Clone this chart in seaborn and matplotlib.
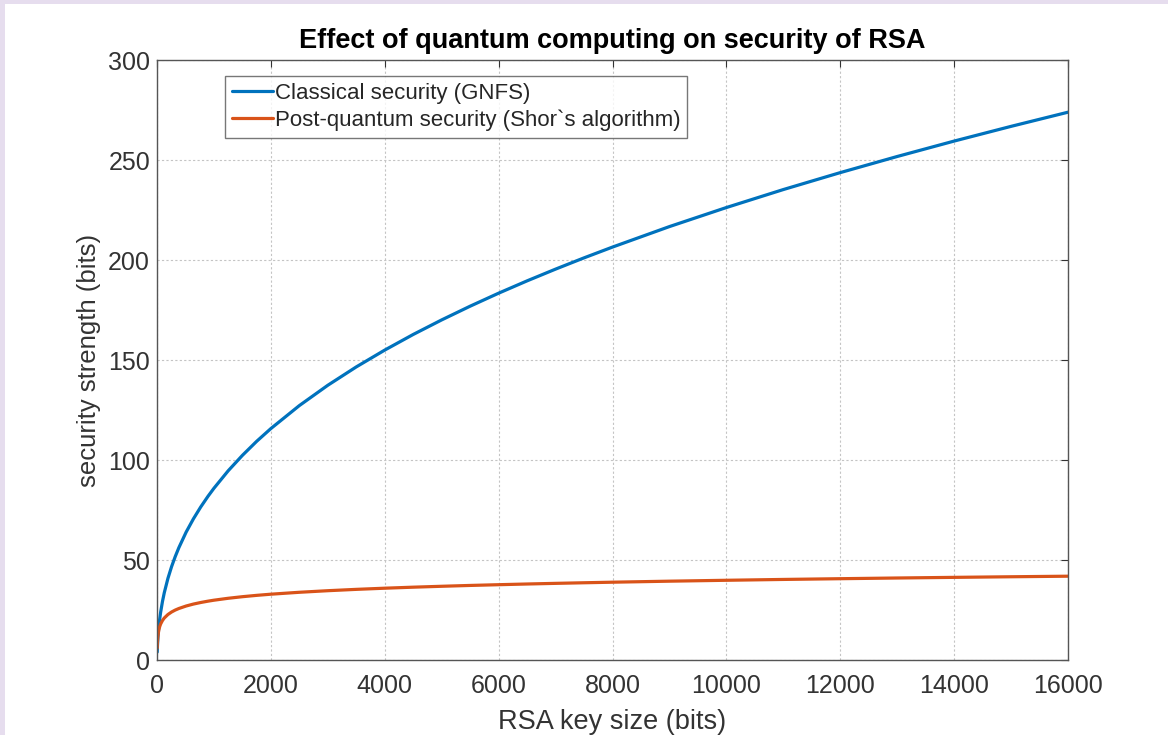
import matplotlib
matplotlib.use("Agg")
import matplotlib.pyplot as plt
import seaborn as sns
import pandas as pd
from matplotlib.patches import Rectangle

# RSA key size (bits)
key_bits = [4, 8, 16, 32, 48, 64, 96, 128, 192, 256,
            320, 384, 512, 640, 768, 896, 1000, 1250, 1500, 1750,
            2000, 2500, 3000, 3500, 4000, 4500, 5000, 5500, 6000, 6500,
            7000, 7500, 8000, 9000, 10000, 11000, 12000, 13000, 14000, 15000,
            16000]
# security strength (bits)
classical = [3.95, 7.03, 11.10, 16.57, 20.59, 23.89, 29.26, 33.66, 40.82, 46.68,
             51.70, 56.17, 63.96, 70.60, 76.52, 81.87, 85.87, 94.60, 102.32, 109.33,
             115.72, 127.21, 137.37, 146.55, 154.96, 162.77, 170.05, 176.91, 183.41, 189.57,
             195.44, 201.07, 206.46, 216.71, 226.23, 235.22, 243.69, 251.75, 259.46, 266.82,
             273.90]
post_quantum = [6, 9, 12, 15, 16.75, 18, 19.75, 21, 22.75, 24,
                24.97, 25.75, 27, 27.97, 28.75, 29.42, 29.9, 30.86, 31.65, 32.32,
                32.9, 33.86, 34.65, 35.32, 35.9, 36.41, 36.86, 37.28, 37.65, 38.0,
                38.32, 38.62, 38.9, 39.41, 39.86, 40.28, 40.65, 41.0, 41.32, 41.62,
                41.9]

series_names = ["Classical security (GNFS)", "Post-quantum security (Shor`s algorithm)"]
colors = ["#0072BD", "#D95319"]

x_ticks = list(range(0, 16001, 2000))
y_ticks = list(range(0, 301, 50))

df = pd.DataFrame({
    "key": key_bits * 2,
    "strength": classical + post_quantum,
    "series": [series_names[0]] * len(key_bits) + [series_names[1]] * len(key_bits),
})

sns.set_style("white")
plt.rcParams["font.family"] = ["Liberation Sans", "DejaVu Sans"]

fig = plt.figure(figsize=(11.68, 7.35), dpi=100)
fig.patch.set_facecolor("#E6DDEE")
# white panel, lavender strip on left and top only
fig.patches.append(Rectangle((5 / 1168, 0), 1, 1 - 4 / 735, transform=fig.transFigure,
                             facecolor="white", edgecolor="none", zorder=-10))

ax = fig.add_axes([157 / 1168, 1 - 660 / 735, 911 / 1168, 600 / 735])
ax.set_facecolor("white")

sns.lineplot(data=df, x="key", y="strength", hue="series", palette=colors,
             linewidth=2.3, ax=ax, sort=False)

ax.set_xlim(0, 16000)
ax.set_ylim(0, 300)
ax.set_xticks(x_ticks)
ax.set_yticks(y_ticks)
ax.tick_params(direction="in", length=5, width=0.8, color="#333333",
               labelsize=18, labelcolor="#333333", top=True, right=True, pad=5)
ax.tick_params(axis="x", pad=10)
ax.grid(True, linestyle=(0, (2, 2)), color="#C4C4C4", linewidth=0.8)
for s in ax.spines.values():
    s.set_color("#555555")
    s.set_linewidth(1.0)

ax.set_xlabel("RSA key size (bits)", fontsize=19.5, color="#333333", labelpad=8)
ax.set_ylabel("security strength (bits)", fontsize=18.5, color="#333333", labelpad=5)
ax.set_title("Effect of quantum computing on security of RSA", fontsize=19.5,
             fontweight="bold", color="black", pad=9)

leg = ax.legend(loc="upper left", bbox_to_anchor=(0.0746, 0.973), fontsize=16,
                frameon=True, fancybox=False, handlelength=1.85, handletextpad=0.1,
                borderpad=0.3, labelspacing=0.25, borderaxespad=0)
leg.get_frame().set_edgecolor("#555555")
leg.get_frame().set_linewidth(1.0)
leg.set_title(None)

fig.savefig("out.png", dpi=100, facecolor=fig.get_facecolor())
